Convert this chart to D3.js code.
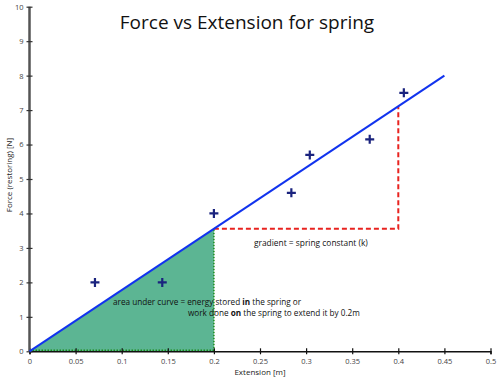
<!DOCTYPE html>
<html><head><meta charset="utf-8">
<script src="https://cdn.jsdelivr.net/npm/d3@7"></script>
<style>body{margin:0;background:#fff}svg{display:block}</style>
</head><body><svg id="c" width="500" height="380"></svg>
<script>
const pointsX = [0.071, 0.144, 0.2, 0.284, 0.304, 0.369, 0.406];
const pointsY = [2, 2, 4, 4.6, 5.7, 6.15, 7.5];
const fitX = [0, 0.45];
const fitY = [0, 8];
const areaX = [0, 0.2];
const gradX = [0.2, 0.4];
const xTicks = [0, 0.05, 0.1, 0.15, 0.2, 0.25, 0.3, 0.35, 0.4, 0.45, 0.5];
const yTicks = [0, 1, 2, 3, 4, 5, 6, 7, 8, 9, 10];

const svg = d3.select("#c");
const x = d3.scaleLinear().domain([0, 0.5]).range([29.5, 490.5]);
const y = d3.scaleLinear().domain([0, 10]).range([351.3, 6.7]);
const k = fitY[1] / fitX[1];
const f = v => k * v;
const font = "'Open Sans', 'DejaVu Sans', sans-serif";

// shaded area
svg.append("path")
  .attr("d", `M${x(areaX[0])},${y(0)}L${x(areaX[1])},${y(f(areaX[1]))}L${x(areaX[1])},${y(0)}Z`)
  .attr("fill", "#5cb593");
svg.append("line").attr("x1", x(areaX[1])).attr("x2", x(areaX[1])).attr("y1", y(0)).attr("y2", y(f(areaX[1])))
  .attr("stroke", "#1a8a1a").attr("stroke-width", 1.5).attr("stroke-dasharray", "1.5,1.5");
svg.append("line").attr("x1", x(0)).attr("x2", x(areaX[1])).attr("y1", y(0) - 1).attr("y2", y(0) - 1)
  .attr("stroke", "#1a8a1a").attr("stroke-width", 1.5).attr("stroke-dasharray", "1.5,1.5");

// axes
const xAxis = d3.axisBottom(x).tickValues(xTicks).tickSize(3).tickFormat(d => d3.format("")(+d.toFixed(2)));
const gx = svg.append("g").attr("transform", `translate(0,${y(0)})`).call(xAxis);
gx.select(".domain").attr("stroke", "#111").attr("stroke-width", 1.5);
gx.selectAll(".tick line").attr("stroke", "#111").attr("y1", -3).attr("y2", 3).attr("stroke-width", 1.2);
gx.selectAll(".tick text").attr("font-family", font).attr("font-size", 7.5).attr("fill", "#444").attr("dy", "0.9em");

const yAxis = d3.axisLeft(y).tickValues(yTicks).tickSize(3).tickFormat(d3.format("d"));
const gy = svg.append("g").attr("transform", `translate(${x(0)},0)`).call(yAxis);
gy.select(".domain").attr("stroke", "#555").attr("stroke-width", 2.5).attr("d", `M0,${y(10)}V${y(0)}`);
gy.selectAll(".tick line").attr("stroke", "#333").attr("x1", -3).attr("x2", 3).attr("stroke-width", 1.2);
gy.selectAll(".tick text").attr("font-family", font).attr("font-size", 7.5).attr("fill", "#444").attr("x", -6);

// gradient triangle
svg.append("path")
  .attr("d", `M${x(gradX[0])},${y(f(gradX[0]))}H${x(gradX[1])}V${y(f(gradX[1]))}`)
  .attr("fill", "none").attr("stroke", "#e8231f").attr("stroke-width", 2).attr("stroke-dasharray", "5,3");

// fit line
svg.append("line").attr("x1", x(fitX[0])).attr("y1", y(fitY[0])).attr("x2", x(fitX[1])).attr("y2", y(fitY[1]))
  .attr("stroke", "#1133ee").attr("stroke-width", 2);

// points
svg.selectAll(".pt").data(pointsX).join("path")
  .attr("transform", (d, i) => `translate(${x(d)},${y(pointsY[i])})`)
  .attr("d", `M-4.5,0H4.5M0,-4.5V4.5`)
  .attr("stroke", "#1a237e").attr("stroke-width", 2.2).attr("fill", "none");

// texts
svg.append("text").attr("x", 247).attr("y", 29).attr("text-anchor", "middle")
  .attr("font-family", font).attr("font-size", 19).attr("fill", "#111").text("Force vs Extension for spring");
svg.append("text").attr("x", 260).attr("y", 375).attr("text-anchor", "middle")
  .attr("font-family", font).attr("font-size", 8).attr("fill", "#222").text("Extension [m]");
svg.append("text").attr("transform", "translate(12,175) rotate(-90)").attr("text-anchor", "middle")
  .attr("font-family", font).attr("font-size", 8).attr("fill", "#222").text("Force (restoring) [N]");

svg.append("text").attr("x", 254).attr("y", 245.5)
  .attr("font-family", font).attr("font-size", 8.4).attr("fill", "#111").text("gradient = spring constant (k)");

const t1 = svg.append("text").attr("x", 113).attr("y", 304.5).attr("font-family", font).attr("font-size", 8.2).attr("fill", "#111");
t1.append("tspan").text("area under curve = energy stored ");
t1.append("tspan").attr("font-weight", 700).text("in");
t1.append("tspan").text(" the spring or");
const t2 = svg.append("text").attr("x", 188).attr("y", 315.5).attr("font-family", font).attr("font-size", 8.2).attr("fill", "#111");
t2.append("tspan").text("work done ");
t2.append("tspan").attr("font-weight", 700).text("on");
t2.append("tspan").text(" the spring to extend it by 0.2m");
</script></body></html>
